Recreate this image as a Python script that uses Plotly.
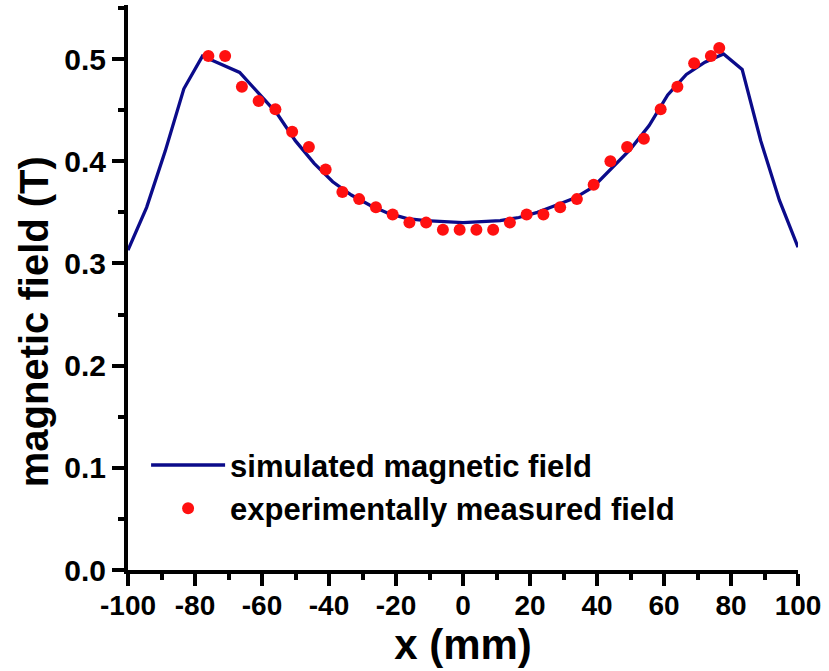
import plotly.graph_objects as go

# simulated field (mm, T)
sim_x = [-100, -94.44, -88.89, -83.33, -77.78, -72.22, -66.67, -61.11, -55.56, -50,
         -44.44, -38.89, -33.33, -27.78, -22.22, -16.67, -11.11, -5.56, 0,
         5.56, 11.11, 16.67, 22.22, 27.78, 33.33, 38.89, 44.44, 50,
         55.56, 61.11, 66.67, 72.22, 77.78, 83.33, 88.89, 94.44, 100]
sim_y = [0.313, 0.355, 0.410, 0.471, 0.503, 0.495, 0.487, 0.467, 0.447, 0.420,
         0.398, 0.380, 0.367, 0.357, 0.349, 0.344, 0.342, 0.341, 0.340,
         0.341, 0.342, 0.345, 0.350, 0.357, 0.364, 0.375, 0.393, 0.412,
         0.435, 0.465, 0.485, 0.497, 0.505, 0.490, 0.420, 0.362, 0.316]

# measured field
exp_x = [-76, -71, -66, -61, -56, -51, -46, -41, -36, -31, -26, -21, -16, -11, -6, -1,
         4, 9, 14, 19, 24, 29, 34, 39, 44, 49, 54, 59, 64, 69, 74, 76.5]
exp_y = [0.503, 0.503, 0.473, 0.459, 0.451, 0.429, 0.414, 0.392, 0.370, 0.363, 0.355,
         0.348, 0.340, 0.340, 0.333, 0.333, 0.333, 0.333, 0.340, 0.348, 0.348, 0.355,
         0.363, 0.377, 0.400, 0.414, 0.422, 0.451, 0.473, 0.496, 0.503, 0.511]

x_ticks = list(range(-100, 101, 20))
y_ticks = [0.0, 0.1, 0.2, 0.3, 0.4, 0.5]

BOLD = "Liberation Sans"

fig = go.Figure()
fig.add_trace(go.Scatter(
    x=sim_x, y=sim_y, mode="lines", name="simulated magnetic field",
    line=dict(color="#0b0b8a", width=3.3), legendgroup="a"))
fig.add_trace(go.Scatter(
    x=exp_x, y=exp_y, mode="markers", name="experimentally measured field",
    marker=dict(color="#ff1010", size=12), legendgroup="b"))

fig.update_layout(
    width=829, height=671,
    margin=dict(l=128, r=31, t=5, b=101),
    plot_bgcolor="white", paper_bgcolor="white",
    font=dict(family=BOLD, color="black"),
    showlegend=True,
    legend=dict(
        x=0.027, y=0.233, xanchor="left", yanchor="top",
        font=dict(family=BOLD, size=31, color="black", weight="bold"),
        bgcolor="rgba(0,0,0,0)", itemwidth=74, tracegroupgap=0,
        traceorder="grouped",
    ),
    xaxis=dict(
        range=[-100, 100], tickvals=x_ticks,
        ticktext=[str(v) for v in x_ticks],
        showgrid=False, zeroline=False, showline=True, linecolor="black", linewidth=4,
        ticks="outside", ticklen=12, tickwidth=3.5, tickcolor="black",
        ticklabelstandoff=-5,
        minor=dict(dtick=10, ticks="outside", ticklen=6, tickwidth=3.5, tickcolor="black", showgrid=False),
        tickfont=dict(family=BOLD, size=28, color="black", weight="bold"),
        title=dict(text="x (mm)", font=dict(family=BOLD, size=42, color="black", weight="bold"), standoff=5),
    ),
    yaxis=dict(
        range=[0, 0.553], tickvals=y_ticks,
        ticktext=[f"{v:.1f}" for v in y_ticks],
        showgrid=False, zeroline=False, showline=True, linecolor="black", linewidth=4,
        ticks="outside", ticklen=12, tickwidth=3.5, tickcolor="black",
        minor=dict(dtick=0.05, ticks="outside", ticklen=6, tickwidth=3.5, tickcolor="black", showgrid=False),
        tickfont=dict(family=BOLD, size=30, color="black", weight="bold"),
    ),
    annotations=[dict(
        text="magnetic field (T)", textangle=-90, showarrow=False,
        xref="paper", yref="paper", x=-0.139, y=0.44, xanchor="center", yanchor="middle",
        font=dict(family=BOLD, size=40, color="black", weight="bold"),
    )],
)

fig.write_html("out.html", config={"displayModeBar": False},
               post_script="document.body.style.margin='0';document.body.style.padding='0';")
